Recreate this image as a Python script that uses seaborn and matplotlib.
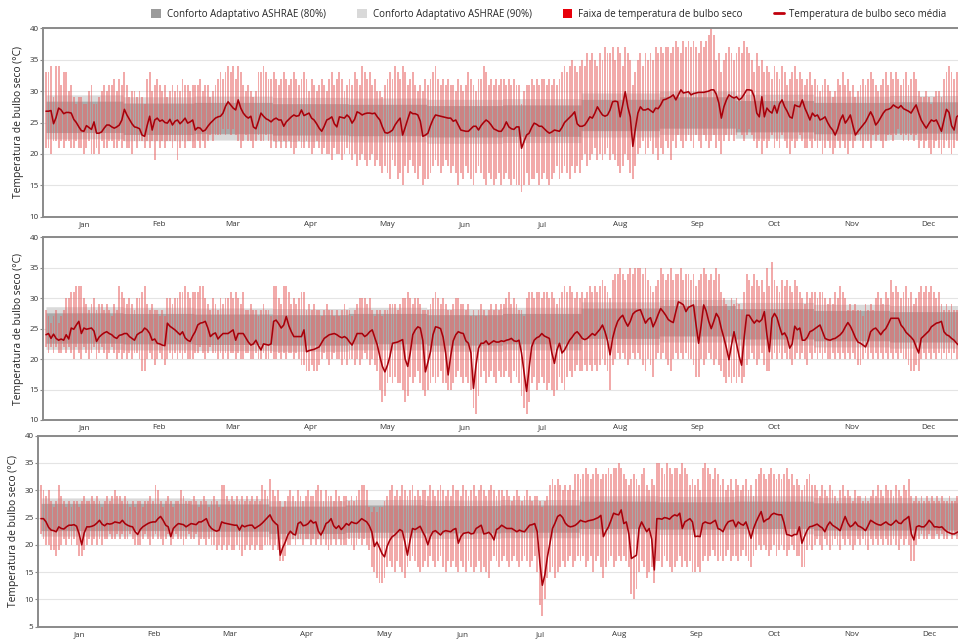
import numpy as np
import pandas as pd
import matplotlib
matplotlib.use("Agg")
import matplotlib.pyplot as plt
import seaborn as sns
from matplotlib.patches import Patch
from matplotlib.lines import Line2D

sns.set_theme(style="white")
plt.rcParams["font.family"] = ["Open Sans", "DejaVu Sans"]

months = ["Jan", "Feb", "Mar", "Apr", "May", "Jun", "Jul", "Aug", "Sep", "Oct", "Nov", "Dec"]
month_days = [31, 28, 31, 30, 31, 30, 31, 31, 30, 31, 30, 31]

# ---------------- Panel 1 ----------------
p1_mean = [
    26.8,26.8,26.9,24.8,25.8,27.3,27.0,26.4,26.6,26.6,26.5,25.5,25.0,24.3,23.7,23.6,24.5,24.2,23.9,25.1,23.3,23.3,23.5,24.1,24.6,24.6,24.3,24.1,24.3,24.6,25.4,
    27.1,26.2,25.5,24.8,24.3,24.2,24.0,23.0,22.8,24.5,26.0,23.8,25.4,25.7,25.2,25.4,25.0,24.9,25.5,24.6,25.2,25.4,24.8,25.2,25.7,24.9,25.1,25.4,
    23.8,24.2,24.1,23.6,23.8,24.4,24.9,25.3,25.7,25.9,26.0,26.5,27.6,28.3,27.8,27.3,27.0,28.6,27.3,26.5,26.0,25.7,26.0,24.3,24.0,25.2,26.5,26.0,25.6,25.4,25.1,
    25.5,25.7,25.4,25.4,24.4,25.1,25.5,25.9,26.2,26.0,26.1,27.0,26.1,26.3,26.5,25.7,25.4,24.8,24.1,23.6,24.4,25.4,25.6,25.9,24.8,24.3,25.9,25.8,25.7,26.2,
    25.8,24.9,25.5,26.7,26.5,26.2,26.4,26.5,26.5,26.4,26.5,25.9,25.4,24.3,23.4,23.3,23.5,23.8,24.6,25.2,25.7,23.0,24.2,25.5,26.7,26.4,26.4,26.2,25.2,22.8,23.0,
    23.3,24.5,25.5,26.2,26.1,26.0,25.9,25.8,25.7,25.7,25.2,25.4,24.6,23.8,23.7,23.6,23.6,24.0,24.4,24.4,23.8,24.5,25.0,25.4,25.1,24.6,24.0,23.8,23.6,23.6,
    24.2,25.1,24.3,24.0,23.9,24.3,24.3,20.9,22.0,23.0,23.3,24.2,24.9,24.7,24.4,24.4,24.0,23.6,23.3,23.5,23.8,23.7,23.6,24.2,25.0,25.4,25.8,26.2,26.7,24.8,24.4,
    24.4,24.6,25.2,25.9,25.7,26.5,27.5,26.8,26.2,26.0,26.2,27.0,28.3,28.4,28.3,25.9,27.8,29.9,27.5,25.9,21.2,24.0,26.5,27.5,27.0,27.0,27.2,26.9,26.6,27.3,27.2,
    27.8,28.6,28.7,28.9,29.1,29.4,28.6,29.4,30.2,29.7,29.8,29.9,29.4,29.6,29.7,29.8,29.8,29.8,29.9,30.0,30.2,30.2,29.5,28.1,25.7,27.5,28.6,29.4,29.1,28.9,
    29.1,28.6,28.9,29.5,30.2,30.2,30.1,29.1,26.5,25.9,29.1,25.9,27.3,26.8,26.5,27.7,26.5,28.0,28.6,27.5,26.8,25.9,25.7,27.8,27.6,27.5,28.6,27.3,26.4,25.4,26.5,
    26.0,26.2,25.4,25.6,25.9,25.0,24.3,23.8,23.0,24.0,25.4,26.2,24.9,25.5,26.2,24.5,23.0,23.6,24.1,24.6,25.1,25.9,26.7,25.9,24.6,25.1,25.8,26.5,27.0,27.1,
    27.3,27.8,27.5,27.3,27.7,27.2,27.0,26.8,26.5,27.2,27.8,26.5,25.4,24.7,24.1,24.8,25.4,25.2,25.4,24.5,23.6,25.4,27.1,26.6,24.5,23.8,25.9,26.2,25.8,25.5,25.6,
]
p1_max = [
    33,33,34,29,34,34,31,33,33,30,31,29,28,29,29,28,28,30,31,28,28,29,30,31,30,31,31,32,30,32,31,
    33,31,29,30,30,29,30,29,28,32,33,30,31,32,31,30,31,29,30,31,30,31,30,32,31,31,30,31,
    31,31,32,30,31,31,29,30,31,32,33,32,33,34,33,34,32,34,33,31,30,31,30,29,30,33,33,34,33,32,32,
    33,32,31,32,33,32,31,32,33,32,31,32,33,32,30,32,31,30,31,32,31,30,32,33,31,32,33,32,30,31,
    32,31,33,32,31,34,33,32,33,31,32,30,30,29,31,32,33,32,34,33,32,34,33,31,32,33,31,30,31,30,32,
    31,32,33,34,32,31,32,31,32,31,31,30,32,31,30,31,33,32,31,30,32,32,34,33,31,32,31,32,31,32,
    32,31,32,31,32,31,31,28,30,31,31,32,31,32,31,32,32,31,32,31,32,31,32,33,34,33,34,35,34,33,34,
    35,34,36,35,36,35,34,36,35,37,36,36,37,35,37,36,34,37,36,35,31,33,35,36,34,36,35,36,35,37,36,
    37,36,37,37,36,37,38,37,36,38,37,38,37,38,37,36,38,37,38,39,40,39,35,36,33,35,36,37,36,35,
    36,37,36,38,37,36,35,33,36,34,35,33,34,33,32,34,33,32,34,33,31,32,33,34,32,33,32,31,32,33,31,
    32,31,30,31,32,31,30,29,30,32,31,33,31,32,30,31,29,30,31,32,31,32,33,32,31,30,31,32,33,31,
    33,32,33,32,31,32,33,31,32,33,32,30,29,29,30,29,28,29,30,30,29,32,33,34,33,32,33,32,31,32,31,
]
p1_min = [
    21,21,20,22,22,21,22,21,22,22,21,21,22,21,21,20,21,22,20,20,21,20,22,21,21,22,22,21,21,22,21,
    22,21,21,20,22,21,22,22,21,22,21,22,19,22,21,22,21,22,22,21,22,19,21,22,21,22,22,21,
    21,22,21,22,21,22,23,22,23,23,23,24,23,24,23,24,23,22,21,22,23,22,22,21,22,23,22,22,23,22,21,
    22,21,22,21,22,21,22,21,20,21,22,21,21,22,21,20,21,22,21,20,21,20,20,19,21,20,20,19,20,21,
    20,19,20,18,19,20,19,18,19,20,18,19,18,17,18,17,16,19,18,16,17,15,18,17,19,18,17,16,18,15,16,
    16,17,18,19,18,17,18,19,18,17,18,17,15,17,16,18,17,16,15,17,18,17,16,15,17,16,15,16,17,15,
    16,17,16,15,16,15,15,14,15,17,15,16,16,17,15,16,17,16,15,16,17,18,16,17,18,17,16,18,17,18,17,
    19,20,18,19,20,21,19,20,19,20,21,19,20,19,18,17,18,20,19,17,16,18,20,21,22,20,21,22,20,21,19,
    21,20,22,21,19,22,21,23,22,21,22,23,22,21,23,22,21,23,22,21,22,23,21,22,20,22,23,22,23,22,
    23,24,23,22,23,24,23,22,21,22,20,22,21,22,23,21,22,21,23,22,21,20,22,21,22,23,22,21,21,22,21,
    22,21,22,20,21,22,21,20,21,22,21,22,21,20,22,21,22,23,22,21,22,22,21,23,22,23,22,21,22,23,
    23,22,23,24,23,22,23,22,23,22,23,21,22,21,22,21,20,21,22,21,20,21,22,21,20,21,22,21,22,21,22,
]

# ---------------- Panel 2 ----------------
p2_mean = [
    24.0,24.2,23.4,24.1,23.4,23.1,23.3,23.1,24.0,23.3,25.1,24.9,25.6,26.2,24.2,25.1,24.9,25.0,25.1,24.6,22.9,23.6,24.0,24.3,24.5,24.2,24.0,23.6,23.4,23.9,24.0,
    24.2,24.2,23.7,23.4,23.1,24.0,24.3,24.5,25.1,24.8,24.2,23.1,23.3,22.6,22.5,22.3,22.2,25.9,25.4,25.1,24.8,24.4,24.0,24.5,23.5,23.1,22.9,23.8,
    24.5,25.6,25.9,26.0,26.2,25.1,23.7,24.1,24.3,23.3,23.8,24.2,24.2,24.2,24.5,24.8,23.1,24.2,24.2,24.2,23.5,22.8,22.3,22.5,23.1,22.2,21.5,22.5,22.4,22.3,22.5,
    26.2,26.4,25.8,25.1,25.6,27.0,25.5,24.5,23.7,23.7,23.7,23.7,24.8,21.2,21.4,21.5,21.6,21.8,22.0,22.7,23.4,23.7,24.0,24.1,24.2,24.0,23.7,23.5,23.7,23.4,
    22.8,22.3,23.2,24.2,24.2,24.2,23.7,24.0,24.5,24.8,23.5,22.3,20.4,18.8,17.9,19.0,20.5,22.6,22.7,22.8,23.0,23.2,20.0,18.8,21.0,24.0,24.8,25.3,25.1,23.0,17.9,
    19.5,21.2,24.0,25.3,25.2,25.0,23.6,21.0,17.4,20.5,23.0,24.0,24.5,24.3,24.2,23.0,22.6,21.0,15.2,19.0,21.8,22.6,22.6,23.0,22.4,22.7,23.0,22.8,22.8,23.0,
    22.9,23.1,23.2,23.4,23.0,22.9,23.1,21.0,17.9,14.7,18.5,22.0,23.1,23.5,23.7,24.2,23.8,23.6,23.4,21.0,19.3,21.5,22.6,21.0,21.5,22.3,23.1,23.6,24.2,24.5,24.0,
    23.4,23.2,23.4,23.8,24.2,23.9,24.4,24.9,25.6,24.5,23.0,20.7,23.4,25.0,26.2,26.8,27.2,26.2,25.4,26.2,27.4,27.8,28.0,28.1,27.0,25.9,26.5,26.8,25.3,26.2,27.3,
    28.3,27.8,27.2,26.5,26.2,26.0,27.8,29.4,29.2,28.9,27.8,28.5,28.7,28.9,25.6,22.6,25.5,28.9,27.9,26.2,25.0,26.2,27.5,26.8,25.0,23.5,21.8,19.9,22.3,24.5,
    22.5,20.5,19.0,23.5,27.2,27.2,26.5,25.9,26.4,26.1,26.5,27.8,24.0,21.2,26.7,27.5,26.8,25.3,24.0,24.3,23.5,21.8,22.5,25.4,24.8,25.1,23.1,23.1,23.6,24.5,24.7,
    25.0,25.3,25.6,24.5,23.4,23.2,23.1,23.3,23.4,23.7,24.0,24.5,25.3,26.0,25.4,24.5,23.5,22.8,22.6,22.3,22.0,23.0,24.5,24.9,25.1,24.6,24.0,24.6,25.0,25.8,
    26.7,26.7,26.7,26.7,25.6,25.1,24.4,24.0,23.6,23.1,22.0,21.0,23.4,23.8,24.2,24.6,25.3,25.6,25.9,26.0,26.2,24.5,24.0,23.8,23.4,23.1,22.6,22.2,22.3,22.5,22.4,
]
p2_max = [
    28,27,26,27,28,26,27,28,30,30,31,31,32,32,32,30,29,28,29,30,28,29,29,28,29,28,27,29,28,32,31,
    30,29,30,29,28,30,30,31,32,29,28,29,28,28,27,28,27,30,30,29,30,30,31,31,32,31,30,31,
    31,31,32,32,30,29,28,30,29,28,30,29,30,30,31,30,31,30,29,31,28,28,29,28,28,27,28,29,28,28,27,
    32,32,30,29,32,32,31,29,30,29,30,31,31,28,29,28,29,28,28,27,28,29,28,28,27,28,27,28,29,28,
    28,27,28,29,30,30,30,29,30,28,27,28,28,27,28,28,29,29,29,28,29,30,30,31,30,29,30,30,29,28,28,
    28,29,30,31,30,29,30,29,28,28,29,30,30,29,29,28,29,27,28,27,28,29,28,27,28,29,28,29,28,29,
    29,30,31,29,30,29,28,28,27,30,31,31,30,31,31,30,31,31,30,31,30,29,30,31,32,31,32,31,30,31,30,
    31,30,31,32,31,32,31,32,33,32,31,30,33,34,34,35,34,33,34,35,34,35,35,35,34,35,33,32,31,32,33,
    35,34,33,34,35,33,34,34,35,33,34,34,33,34,32,33,34,35,34,33,34,33,35,34,31,30,29,28,30,29,
    30,29,28,31,34,33,32,34,33,32,33,31,35,32,36,33,32,31,33,32,33,32,31,33,32,31,30,29,31,30,31,
    31,30,31,31,30,29,30,29,31,30,32,31,30,28,29,28,29,28,28,27,29,28,29,28,30,31,30,29,31,30,
    33,31,32,31,30,31,32,30,31,29,30,31,32,31,32,31,32,31,30,31,29,28,29,28,29,28,28,29,28,29,28,
]
p2_min = [
    22,21,22,21,22,21,21,22,21,22,21,20,22,21,20,22,21,20,21,22,20,21,22,21,20,21,22,21,20,21,20,
    21,20,21,20,21,21,20,18,18,20,21,20,19,20,21,20,19,20,21,20,21,20,21,20,21,20,20,20,
    21,21,22,21,20,21,22,21,21,20,21,20,21,20,21,21,20,21,20,20,21,21,20,20,21,20,20,21,20,20,21,
    20,20,21,20,21,20,21,21,20,21,20,19,19,18,18,19,18,18,19,20,21,20,19,20,21,20,20,19,20,19,
    20,20,19,20,19,20,21,20,19,20,19,18,15,13,14,16,17,16,17,16,16,15,13,14,17,16,17,18,16,15,14,
    15,16,17,16,17,18,16,16,15,15,16,17,18,17,16,17,16,15,12,11,14,17,18,16,17,18,17,16,18,17,
    17,18,17,16,18,17,16,14,12,11,13,16,17,15,16,17,16,15,16,15,14,15,17,16,15,17,18,17,18,19,18,
    18,19,18,19,18,19,18,19,20,19,18,15,19,20,21,20,21,20,19,20,21,20,21,20,19,18,20,19,17,20,21,
    20,21,20,19,18,20,21,20,21,20,21,20,20,19,17,17,20,19,20,21,20,19,20,19,18,17,16,17,16,17,
    16,17,16,17,19,20,21,20,19,20,21,19,18,18,20,21,20,21,20,21,20,20,19,20,21,20,21,20,19,21,20,
    21,20,21,20,21,20,20,21,20,21,20,21,20,21,20,21,20,19,19,20,21,20,21,20,21,20,21,20,21,20,
    21,20,21,20,21,20,20,19,18,18,19,18,20,21,20,21,20,21,20,21,20,21,20,21,20,21,20,21,21,20,21,
]

# ---------------- Panel 3 ----------------
p3_mean = [
    24.8,24.8,24.2,23.2,22.7,22.6,22.4,23.3,23.0,22.9,23.3,23.6,23.6,23.7,23.4,22.0,20.0,22.2,23.3,23.3,23.4,23.6,24.0,24.5,23.8,23.5,23.9,23.8,23.9,24.2,24.1,
    24.0,24.5,23.9,23.6,23.4,23.3,22.4,21.9,22.8,23.3,23.6,23.9,24.1,24.2,24.2,24.8,25.2,24.5,23.6,23.3,21.5,23.0,23.5,23.9,23.8,23.7,23.3,23.6,
    23.9,23.8,23.7,24.2,24.2,24.5,24.8,23.6,23.0,22.7,22.5,22.7,24.2,24.0,23.9,23.8,23.7,23.6,23.6,22.7,23.6,23.3,23.5,23.6,23.6,23.0,23.3,23.6,24.0,24.5,25.0,
    25.5,24.5,24.0,23.6,18.1,19.5,20.5,21.8,22.5,22.0,21.8,23.9,24.2,23.5,23.6,23.9,24.5,24.0,24.2,22.5,21.8,22.7,23.9,24.2,24.8,23.5,23.0,23.5,22.8,23.3,
    23.9,23.6,24.2,24.0,23.9,24.3,24.8,24.5,24.2,23.5,22.4,19.7,20.5,19.5,18.4,17.8,19.7,20.8,21.5,21.8,22.3,22.8,22.5,20.5,18.1,20.8,23.0,22.8,23.1,23.4,22.4,
    21.5,20.0,21.5,22.4,22.6,22.2,21.8,22.4,22.6,22.5,22.4,22.8,23.0,20.3,21.5,22.1,22.2,22.3,22.0,22.1,23.0,23.3,23.6,22.0,22.1,22.3,21.8,20.9,22.8,23.1,
    23.6,23.3,23.0,23.0,23.0,22.7,22.4,22.7,22.5,22.4,23.0,23.6,23.7,23.9,22.4,16.9,12.6,14.5,17.8,20.3,23.0,24.0,25.2,25.5,25.0,24.0,23.5,23.3,23.4,23.6,24.0,
    24.5,24.3,24.2,24.4,24.5,24.6,24.8,25.0,25.4,21.5,22.5,23.3,24.5,25.8,25.6,25.5,26.4,23.9,24.2,22.0,17.5,17.8,18.1,23.0,24.2,23.3,22.4,23.0,21.0,15.4,24.8,
    24.8,24.7,25.0,24.9,24.7,25.2,25.5,25.3,25.8,23.0,24.2,24.5,24.8,24.2,21.5,21.6,21.5,23.9,24.2,24.0,23.9,24.2,24.5,23.0,22.8,22.4,23.5,24.2,24.4,24.5,
    23.3,24.2,23.8,23.6,24.2,22.8,21.2,23.0,24.2,25.2,26.1,24.2,24.6,24.8,25.5,25.8,25.6,25.5,25.5,24.0,21.9,21.8,21.6,21.9,21.9,23.3,20.3,21.5,22.6,23.3,23.4,
    23.6,23.8,23.4,23.1,22.4,23.5,24.2,23.6,23.3,23.0,22.6,24.0,25.2,24.0,23.3,23.6,24.2,23.5,23.3,23.0,22.6,23.5,24.5,24.2,23.9,23.7,23.6,23.9,24.2,23.8,
    23.6,24.0,24.5,24.0,23.9,24.5,24.8,25.2,22.0,20.9,23.3,23.5,23.3,23.3,23.8,24.5,24.0,23.3,23.3,23.2,23.3,22.8,22.4,22.2,22.0,22.0,22.3,22.5,22.4,22.6,22.5,
]
p3_max = [
    31,30,29,30,28,27,28,31,29,28,27,28,27,28,28,27,28,29,28,28,29,28,29,28,27,28,29,28,29,30,29,
    29,28,29,28,27,28,27,28,28,27,28,28,29,28,31,30,28,27,28,29,28,27,28,28,30,29,28,28,
    28,29,28,27,28,29,28,27,28,29,28,27,31,31,29,28,29,28,29,28,29,28,29,28,29,28,29,28,31,30,29,
    32,30,29,30,28,27,28,29,30,29,28,30,29,28,29,30,29,29,30,31,30,28,30,29,29,28,30,29,28,29,
    29,28,29,28,29,30,31,31,30,27,26,27,26,27,27,28,29,30,31,29,30,29,31,30,29,30,31,29,30,29,30,
    30,29,31,30,29,30,31,30,29,30,29,31,30,30,29,31,30,29,30,31,29,30,31,30,29,30,31,30,29,30,
    30,29,30,29,28,29,30,29,28,29,30,29,28,29,29,28,27,28,29,31,32,31,32,31,30,31,30,31,30,33,33,
    32,33,34,33,32,33,34,33,32,33,33,34,33,34,34,35,34,33,32,31,32,33,32,31,33,34,31,30,32,31,35,
    35,34,33,35,34,33,34,34,33,35,34,33,31,32,31,32,30,34,35,34,33,32,34,33,31,32,30,31,32,30,
    32,31,30,31,32,30,31,29,32,33,34,33,32,33,34,33,32,33,32,33,34,32,33,31,32,31,30,31,32,33,31,
    31,30,29,31,30,29,31,30,29,28,30,31,29,30,29,28,30,29,29,28,29,28,29,30,29,31,30,29,31,30,
    30,29,31,30,29,31,30,32,29,28,29,28,29,28,29,28,29,28,29,28,29,28,28,29,28,28,29,28,28,29,28,
]
p3_min = [
    22,21,20,20,19,19,18,19,20,21,20,21,20,21,20,18,18,19,20,21,20,21,20,21,20,21,21,22,21,21,22,
    21,22,21,21,22,21,20,20,20,21,22,21,20,21,22,21,21,20,21,22,20,21,22,21,21,20,21,22,
    21,21,22,20,21,21,20,21,20,20,19,20,19,20,19,20,19,19,20,19,18,19,20,19,20,19,20,19,19,20,20,
    20,19,20,19,17,17,18,20,20,21,20,21,21,20,21,21,20,21,20,21,20,21,20,19,20,21,20,21,20,20,
    20,21,20,19,20,21,20,21,20,19,16,15,14,13,13,14,16,17,16,15,17,16,15,14,16,17,18,17,16,15,16,
    17,16,18,17,16,17,18,16,15,17,16,17,16,15,17,16,15,17,16,15,16,17,15,16,15,14,17,18,17,16,
    17,18,17,16,17,18,17,16,17,18,17,16,17,18,15,9,7,10,14,15,16,14,15,16,17,16,17,18,16,17,18,
    17,18,16,17,18,15,17,18,16,14,16,17,18,16,17,18,17,18,17,16,11,10,12,15,17,16,14,15,16,13,17,
    17,16,18,17,16,15,16,17,18,16,17,16,17,15,15,16,15,17,18,17,18,19,18,17,18,17,18,19,17,18,
    18,17,18,19,18,17,16,18,19,20,19,20,19,18,19,20,18,19,20,19,18,19,20,19,18,18,16,16,19,20,19,
    20,21,20,19,21,20,19,20,21,20,19,21,20,21,20,19,20,21,20,21,20,19,21,20,21,20,21,20,21,20,
    20,21,20,19,21,20,21,20,17,17,20,21,22,21,21,22,21,21,22,21,22,21,21,22,21,22,21,21,22,21,21,
]

# Monthly adaptive comfort temperature (centre of the comfort bands)
p1_comfort = [25.9, 25.6, 25.7, 25.5, 25.4, 25.2, 25.3, 26.2, 26.6, 26.0, 25.7, 25.8]
p2_comfort = [25.1, 25.0, 24.9, 24.8, 25.0, 24.8, 25.0, 25.9, 26.3, 25.8, 25.5, 25.3]
p3_comfort = [25.1, 25.1, 25.0, 24.6, 24.8, 24.7, 24.8, 25.5, 25.4, 25.5, 25.2, 25.2]

panels = [
    dict(mean=p1_mean, hi=p1_max, lo=p1_min, comf=p1_comfort),
    dict(mean=p2_mean, hi=p2_max, lo=p2_min, comf=p2_comfort),
    dict(mean=p3_mean, hi=p3_max, lo=p3_min, comf=p3_comfort),
]
for i, p in enumerate(panels):
    for k in ("mean", "hi", "lo"):
        assert len(p[k]) == 365, (i, k, len(p[k]))

# pixel layout of each axes: left, top, right, bottom, ymin, ymax
layout = [
    (43.3, 28.3, 968.0, 216.7, 10, 40),
    (43.3, 237.3, 968.0, 420.0, 10, 40),
    (38.3, 435.7, 968.6, 626.7, 5, 40),
]
W, H = 958, 639
fig = plt.figure(figsize=(W / 100, H / 100), dpi=100)

days = np.arange(365)
starts = np.cumsum([0] + month_days[:-1])
mid_month = starts + np.array(month_days) / 2 - 0.5

bar_col = "#e86464"
outer_col = "#dadada"
inner_col = "#a9a9a9"
line_col = "#a8000a"
spine_col = "#8a8a8a"

for (l, t, r, b, ymin, ymax), p in zip(layout, panels):
    ax = fig.add_axes([l / W, 1 - b / H, (r - l) / W, (b - t) / H])
    df = pd.DataFrame({"day": days, "mean": p["mean"], "hi": p["hi"], "lo": p["lo"]})
    comf_daily = np.repeat(p["comf"], month_days)

    for y in range(ymin, ymax + 1, 5):
        ax.axhline(y, color="#e4e4e4", lw=0.8, zorder=0)

    ax.fill_between(days, comf_daily - 3.5, comf_daily + 3.5, step="mid",
                    color=outer_col, linewidth=0, zorder=1)
    ax.fill_between(days, comf_daily - 2.5, comf_daily + 2.5, step="mid",
                    color=inner_col, linewidth=0, zorder=1.5)
    ax.bar(df["day"], df["hi"] - df["lo"], bottom=df["lo"], width=0.74,
           color=bar_col, alpha=0.55, linewidth=0, zorder=2)
    sns.lineplot(data=df, x="day", y="mean", ax=ax, color=line_col, lw=1.15, zorder=5)

    ax.set_xlim(-1.05, 364.5)
    ax.set_ylim(ymin, ymax)
    ax.set_yticks(range(ymin, ymax + 1, 5))
    ax.set_xticks(mid_month)
    ax.set_xticklabels(months)
    ax.set_xlabel("")
    ax.set_ylabel("Temperatura de bulbo seco (°C)", fontsize=7.4, color="#222222", labelpad=4)
    ax.tick_params(axis="y", labelsize=5.8, length=2.5, width=0.8, color=spine_col,
                   pad=1, labelcolor="#333333", left=True)
    ax.tick_params(axis="x", labelsize=5.8, length=0, pad=3, labelcolor="#333333")
    for side in ("left", "top", "bottom"):
        ax.spines[side].set_color(spine_col)
        ax.spines[side].set_linewidth(1.4)
    ax.spines["right"].set_visible(False)

handles = [
    Patch(facecolor="#9b9b9b", edgecolor="none"),
    Patch(facecolor="#d9d9d9", edgecolor="none"),
    Patch(facecolor="#e8000b", edgecolor="none"),
    Line2D([0], [0], color="#c0000c", lw=2),
]
labels = ["Conforto Adaptativo ASHRAE (80%)", "Conforto Adaptativo ASHRAE (90%)",
          "Faixa de temperatura de bulbo seco", "Temperatura de bulbo seco média"]
fig.legend(handles, labels, loc="center", bbox_to_anchor=(0.573, 0.978), ncol=4,
           frameon=False, fontsize=7.0, handlelength=1.0, handleheight=1.0,
           columnspacing=3.2, handletextpad=0.6)

fig.savefig("out.png", dpi=100)
